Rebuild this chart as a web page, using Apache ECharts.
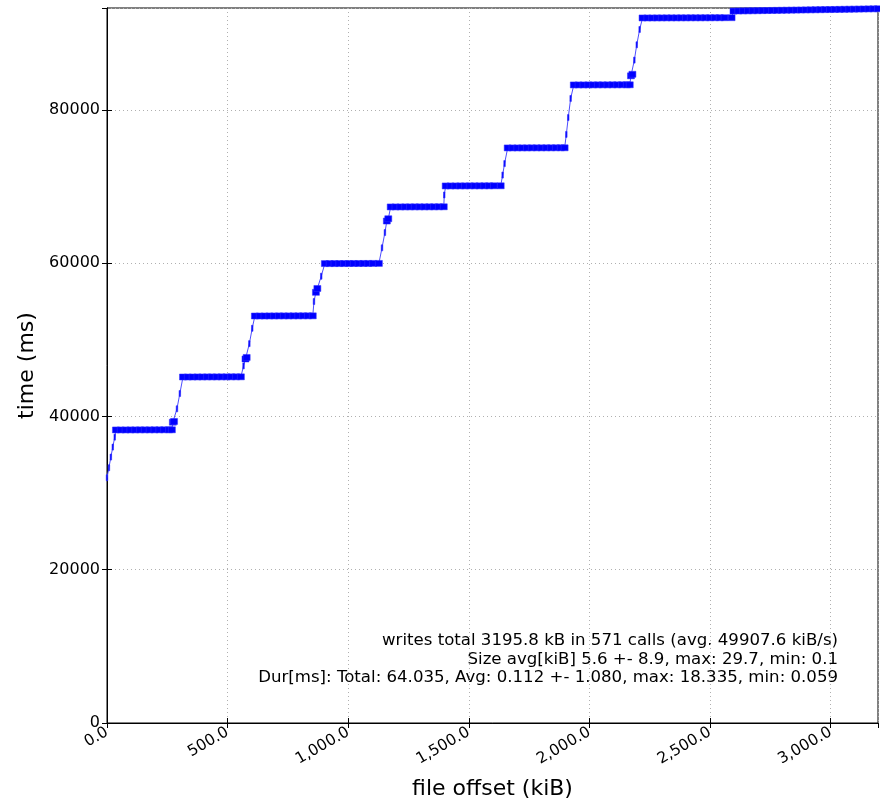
<!DOCTYPE html>
<html><head><meta charset="utf-8">
<script src="https://cdn.jsdelivr.net/npm/echarts@6/dist/echarts.min.js"></script>
<style>html,body{margin:0;padding:0;background:#fff}#c{width:880px;height:802px}</style>
</head><body><div id="c"></div>
<script>
// file offset (kiB) of each plotted write
const offsetKiB = [
  0, 8, 16, 24, 32, 37, 57, 77, 97, 117, 137, 157, 177, 197, 217, 237, 257, 269,
  273, 278, 290, 302, 315, 335, 355, 375, 395, 415, 435, 455, 475, 495, 515, 535, 555,
  566, 574, 579, 590, 602, 613, 633, 653, 673, 693, 713, 733, 753, 773, 793, 813, 833, 853,
  858, 866, 872, 888, 903, 923, 943, 963, 983, 1003, 1023, 1043, 1063, 1083, 1103, 1127,
  1140, 1152, 1160, 1166, 1176, 1196, 1216, 1236, 1256, 1276, 1296, 1316, 1336, 1356, 1376, 1396,
  1398, 1404, 1424, 1444, 1464, 1484, 1504, 1524, 1544, 1564, 1584, 1604, 1632,
  1640, 1648, 1661, 1681, 1701, 1721, 1741, 1761, 1781, 1801, 1821, 1841, 1861, 1881, 1897,
  1904, 1912, 1922, 1935, 1955, 1975, 1995, 2015, 2035, 2055, 2075, 2095, 2115, 2135, 2155, 2167,
  2172, 2178, 2186, 2196, 2208, 2220, 2240, 2260, 2280, 2300, 2320, 2340, 2360, 2380, 2400, 2420,
  2440, 2460, 2480, 2500, 2520, 2540, 2560, 2589,
  2597, 2617, 2637, 2657, 2677, 2697, 2717, 2737, 2757, 2777, 2797, 2817, 2837, 2857, 2877, 2897,
  2917, 2937, 2957, 2977, 2997, 3017, 3037, 3057, 3077, 3097, 3117, 3137, 3157, 3177, 3196
];
// time (ms) of each plotted write
const timeMs = [
  32000, 33300, 34700, 36000, 37300, 38240, 38240, 38240, 38245, 38245, 38250, 38250, 38250, 38255, 38255, 38260, 38260, 38260,
  39250, 39350, 41000, 43000, 45150, 45150, 45150, 45155, 45155, 45160, 45160, 45160, 45165, 45165, 45170, 45170, 45170,
  46600, 47500, 47700, 49500, 51500, 53110, 53110, 53110, 53115, 53115, 53120, 53120, 53120, 53125, 53125, 53130, 53130, 53130,
  55000, 56200, 56700, 58300, 59950, 59950, 59950, 59955, 59955, 59960, 59960, 59960, 59965, 59965, 59970, 59970,
  62000, 64000, 65500, 65800, 67340, 67340, 67340, 67345, 67345, 67350, 67350, 67350, 67355, 67355, 67360, 67360,
  68900, 70080, 70080, 70080, 70085, 70085, 70090, 70090, 70090, 70095, 70095, 70100, 70100,
  71500, 73000, 75040, 75040, 75040, 75045, 75045, 75050, 75050, 75050, 75055, 75055, 75060, 75060, 75060,
  76800, 79000, 81500, 83260, 83260, 83260, 83265, 83265, 83270, 83270, 83270, 83275, 83275, 83280, 83280, 83280,
  84450, 84650, 86500, 88500, 90500, 92000, 92000, 92000, 92005, 92005, 92010, 92010, 92010, 92015, 92015, 92020,
  92020, 92020, 92025, 92025, 92030, 92030, 92030, 92035,
  92900, 92910, 92920, 92930, 92940, 92950, 92960, 92970, 92980, 92990, 93000, 93010, 93020, 93030, 93040, 93050,
  93060, 93070, 93080, 93090, 93100, 93110, 93120, 93130, 93140, 93150, 93160, 93170, 93180, 93190, 93200
];
const yTicks = [0, 20000, 40000, 60000, 80000];
const xTicks = [0, 500, 1000, 1500, 2000, 2500, 3000];
const statsLines = [
  'writes total 3195.8 kB in 571 calls (avg. 49907.6 kiB/s)',
  'Size avg[kiB] 5.6 +- 8.9, max: 29.7, min: 0.1',
  'Dur[ms]: Total: 64.035, Avg: 0.112 +- 1.080, max: 18.335, min: 0.059'
];

const points = offsetKiB.map((x, i) => [x, timeMs[i]]);
// a point is "on a rise" when it is far in time from both neighbours
const onRise = timeMs.map((t, i) => {
  const dp = i > 0 ? Math.abs(t - timeMs[i - 1]) : Infinity;
  const dn = i < timeMs.length - 1 ? Math.abs(timeMs[i + 1] - t) : Infinity;
  return dp > 500 && dn > 500;
});
const font = 'DejaVu Sans';
const fmtX = v => v.toLocaleString('en-US', {minimumFractionDigits: 1, maximumFractionDigits: 1});

const chart = echarts.init(document.getElementById('c'), null, {renderer: 'canvas'});
const xMax = 3196, yMax = 93300;
const tick = {show: true, inside: true, length: 5, lineStyle: {color: '#000', width: 1}};
const grid = {show: true, lineStyle: {color: '#b0b0b0', type: [1, 3], width: 1}};
chart.setOption({
  animation: false,
  backgroundColor: '#fff',
  grid: {left: 107, right: 2, top: 8, bottom: 79, show: true, borderColor: '#000', borderWidth: 1,
    containLabel: false, outerBoundsMode: 'none'},
  xAxis: [{
    type: 'value', min: 0, max: xMax, interval: 500, position: 'bottom',
    name: 'file offset (kiB)', nameLocation: 'middle', nameGap: 55,
    nameTextStyle: {fontFamily: font, fontSize: 22, color: '#000'},
    axisLine: {show: true, lineStyle: {color: '#000', width: 1}},
    axisTick: tick, splitLine: grid,
    axisLabel: {rotate: 30, fontFamily: font, fontSize: 15.5, color: '#000', margin: 8,
      showMaxLabel: false, formatter: v => xTicks.includes(v) ? fmtX(v) : ''}
  }, {
    type: 'value', min: 0, max: xMax, interval: 500, position: 'top',
    axisLine: {show: true, lineStyle: {color: '#000'}}, axisTick: tick,
    axisLabel: {show: false}, splitLine: {show: false}
  }],
  yAxis: [{
    type: 'value', min: 0, max: yMax, interval: 20000, position: 'left',
    name: 'time (ms)', nameLocation: 'middle', nameGap: 67,
    nameTextStyle: {fontFamily: font, fontSize: 22, color: '#000'},
    axisLine: {show: true, lineStyle: {color: '#000', width: 1}},
    axisTick: tick, splitLine: grid,
    axisLabel: {fontFamily: font, fontSize: 16, color: '#000', margin: 7,
      showMaxLabel: false, formatter: v => yTicks.includes(v) ? String(v) : ''}
  }, {
    type: 'value', min: 0, max: yMax, interval: 20000, position: 'right',
    axisLine: {show: true, lineStyle: {color: '#000'}}, axisTick: tick,
    axisLabel: {show: false}, splitLine: {show: false}
  }],
  series: [{
    type: 'line', data: points, xAxisIndex: 0, yAxisIndex: 0,
    symbol: 'rect', showAllSymbol: true,
    symbolSize: (v, p) => onRise[p.dataIndex] ? [1.5, 6] : [7, 6],
    lineStyle: {color: '#4d4dff', width: 1},
    itemStyle: {color: '#0000ff', borderColor: '#3333ff', borderWidth: 0.5},
    clip: true
  }],
  graphic: statsLines.map((t, i) => ({
    type: 'text', right: 880 - 838, top: 632 + i * 18.7,
    style: {text: t, fontFamily: font, fontSize: 16.6, fill: '#000', textAlign: 'right'}
  }))
});
</script></body></html>
